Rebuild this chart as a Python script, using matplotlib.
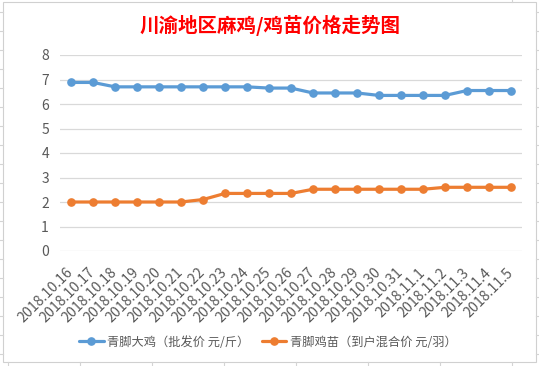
import matplotlib
matplotlib.use("Agg")
import matplotlib.pyplot as plt
from matplotlib.patches import Rectangle
from matplotlib.lines import Line2D

plt.rcParams['font.family'] = ['Noto Sans CJK SC', 'DejaVu Sans']

# data
dates = ["2018.10.16", "2018.10.17", "2018.10.18", "2018.10.19", "2018.10.20",
         "2018.10.21", "2018.10.22", "2018.10.23", "2018.10.24", "2018.10.25",
         "2018.10.26", "2018.10.27", "2018.10.28", "2018.10.29", "2018.10.30",
         "2018.10.31", "2018.11.1", "2018.11.2", "2018.11.3", "2018.11.4", "2018.11.5"]
big_chicken = [6.88, 6.88, 6.7, 6.7, 6.7, 6.7, 6.7, 6.7, 6.7, 6.65, 6.65,
               6.45, 6.45, 6.45, 6.35, 6.35, 6.35, 6.35, 6.55, 6.55, 6.55]
chick = [2.0, 2.0, 2.0, 2.0, 2.0, 2.0, 2.1, 2.35, 2.35, 2.35, 2.35,
         2.52, 2.52, 2.52, 2.52, 2.52, 2.52, 2.6, 2.6, 2.6, 2.6]
series_names = ["青脚大鸡（批发价 元/斤）", "青脚鸡苗（到户混合价 元/羽）"]
title = "川渝地区麻鸡/鸡苗价格走势图"

W, H = 539, 366
fig = plt.figure(figsize=(W / 100, H / 100), dpi=100)

# spreadsheet cell lines behind the chart
for yy in range(12, H, 19):
    fig.add_artist(Line2D([0, 3 / W], [1 - yy / H] * 2, color="#d4d4d4", lw=0.8))
    fig.add_artist(Line2D([536 / W, 1], [1 - yy / H] * 2, color="#d4d4d4", lw=0.8))
for xx in [8, 80, 152, 224, 296, 368, 440, 512]:
    fig.add_artist(Line2D([xx / W] * 2, [1 - 362 / H, 0], color="#d4d4d4", lw=0.8))
fig.add_artist(Line2D([512 / W] * 2, [1, 1 - 2 / H], color="#d4d4d4", lw=0.8))
# chart area border
fig.add_artist(Rectangle((3 / W, 1 - 362 / H), 533 / W, 360 / H, fill=True,
                         facecolor="white", edgecolor="#d0d0d0", lw=0.8, zorder=0))

ax = fig.add_axes([60 / W, 1 - 251 / H, 462 / W, 196 / H])
ax.set_facecolor("none")
x = list(range(len(dates)))
ax.plot(x, big_chicken, color="#5B9BD5", lw=2.3, marker="o", markersize=5.2,
        label=series_names[0], solid_capstyle="round")
ax.plot(x, chick, color="#ED7D31", lw=2.3, marker="o", markersize=5.2,
        label=series_names[1], solid_capstyle="round")

ax.set_xlim(-0.5, len(dates) - 0.5)
ax.set_ylim(0, 8)
ax.set_yticks(range(0, 9))
ax.yaxis.grid(True, color="#d9d9d9", lw=0.9)
ax.set_axisbelow(True)
for s in ax.spines.values():
    s.set_visible(False)
ax.tick_params(length=0, colors="#595959", labelsize=10)
ax.tick_params(axis="y", pad=8)
ax.set_xticks(x)
ax.set_xticklabels(dates, rotation=45, ha="right", va="center",
                   rotation_mode="anchor", fontsize=10.2, color="#595959")
ax.tick_params(axis="x", pad=14)

fig.text(270 / W, 1 - 25 / H, title, color="#ff0000", fontsize=14,
         fontweight="bold", ha="center", va="center")

ax.legend(loc="center", bbox_to_anchor=(268 / W, 1 - 342 / H),
          bbox_transform=fig.transFigure, ncol=2, frameon=False,
          fontsize=8.8, labelcolor="#595959", handlelength=2.0,
          handletextpad=0.3, columnspacing=1.0)

fig.savefig("out.png", dpi=100)
